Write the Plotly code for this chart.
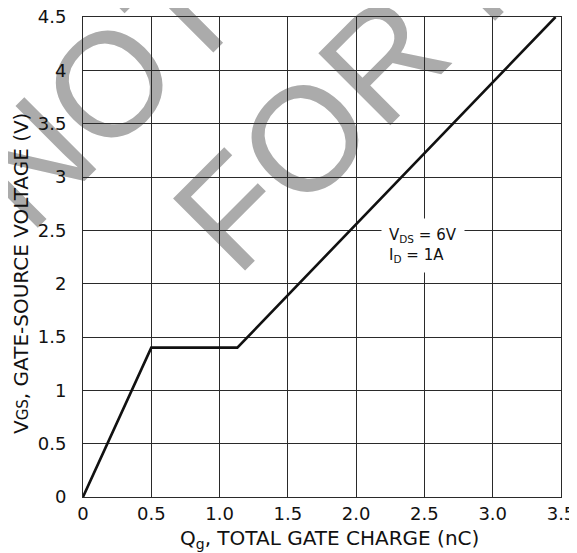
import plotly.graph_objects as go

# ---- data ----
qg = [0, 0.5, 1.13, 3.46]          # total gate charge (nC)
vgs = [0, 1.4, 1.4, 4.5]           # gate-source voltage (V)
x_ticks = [0, 0.5, 1.0, 1.5, 2.0, 2.5, 3.0, 3.5]
x_tick_text = ["0", "0.5", "1.0", "1.5", "2.0", "2.5", "3.0", "3.5"]
y_ticks = [0, 0.5, 1, 1.5, 2, 2.5, 3, 3.5, 4, 4.5]
y_tick_text = ["0", "0.5", "1", "1.5", "2", "2.5", "3", "3.5", "4", "4.5"]
watermark_lines = ["NOT", "FOR N"]

# page body has an 8px margin, so the figure is offset by (8, 8) in the window
OFF = 8
W, H = 577 - OFF, 553 - OFF
L, R, T, B = 83 - OFF, 16, 17 - OFF, 56
pw = W - L - R
ph = H - T - B


def px(x):  # window pixel x -> paper
    return (x - OFF - L) / pw


def py(y):  # window pixel y -> paper
    return (H - B - (y - OFF)) / ph


FONT = "DejaVu Sans"
GRID = "#2a2a2a"

fig = go.Figure()
fig.add_trace(go.Scatter(x=qg, y=vgs, mode="lines",
                         line=dict(color="#111111", width=2.6),
                         hoverinfo="skip", showlegend=False, cliponaxis=False))

# watermark as below-layer shape labels
wm_centers = [(93.4, 79.6), (353.0, 70.0)]
shapes = []
for txt, (cx, cy) in zip(watermark_lines, wm_centers):
    shapes.append(dict(type="rect", xref="paper", yref="paper",
                       x0=px(cx) - 0.005, x1=px(cx) + 0.005,
                       y0=py(cy) - 0.005, y1=py(cy) + 0.005,
                       line=dict(width=0), fillcolor="rgba(0,0,0,0)",
                       layer="below",
                       label=dict(text=txt, textangle=-45,
                                  textposition="middle center",
                                  font=dict(family="Liberation Sans", size=148,
                                            color="#ababab"))))

annotations = [
    dict(text="V<sub>DS</sub> = 6V<br>I<sub>D</sub> = 1A", x=2.49, y=2.36,
         xref="x", yref="y", xanchor="center", yanchor="middle", align="left",
         showarrow=False, bgcolor="white", borderpad=7,
         font=dict(family=FONT, size=15, color="#111111")),
    dict(text="Q<sub>g</sub>, TOTAL GATE CHARGE (nC)", x=px(329), y=py(539),
         xref="paper", yref="paper", xanchor="center", yanchor="middle",
         showarrow=False, font=dict(family=FONT, size=20, color="#111111")),
    dict(text="V<span style='font-size:15px'>GS</span>, GATE-SOURCE VOLTAGE (V)",
         x=px(21), y=py(274), textangle=-90,
         xref="paper", yref="paper", xanchor="center", yanchor="middle",
         showarrow=False, font=dict(family=FONT, size=20, color="#111111")),
]

axis_common = dict(showgrid=True, gridcolor=GRID, gridwidth=1,
                   showline=True, linecolor=GRID, linewidth=1, mirror=True,
                   zeroline=False, ticks="", automargin=False,
                   ticklabeloverflow="allow",
                   tickfont=dict(family=FONT, size=18, color="#111111"))

fig.update_layout(
    width=W, height=H,
    margin=dict(l=L, r=R, t=T, b=B, autoexpand=False),
    paper_bgcolor="white", plot_bgcolor="rgba(0,0,0,0)",
    xaxis=dict(range=[0, 3.5], tickvals=x_ticks, ticktext=x_tick_text,
               ticklabelstandoff=0, **axis_common),
    yaxis=dict(range=[0, 4.5], tickvals=y_ticks, ticktext=y_tick_text,
               ticklabelstandoff=12, **axis_common),
    shapes=shapes,
    annotations=annotations,
)

fig.write_html("out.html")
